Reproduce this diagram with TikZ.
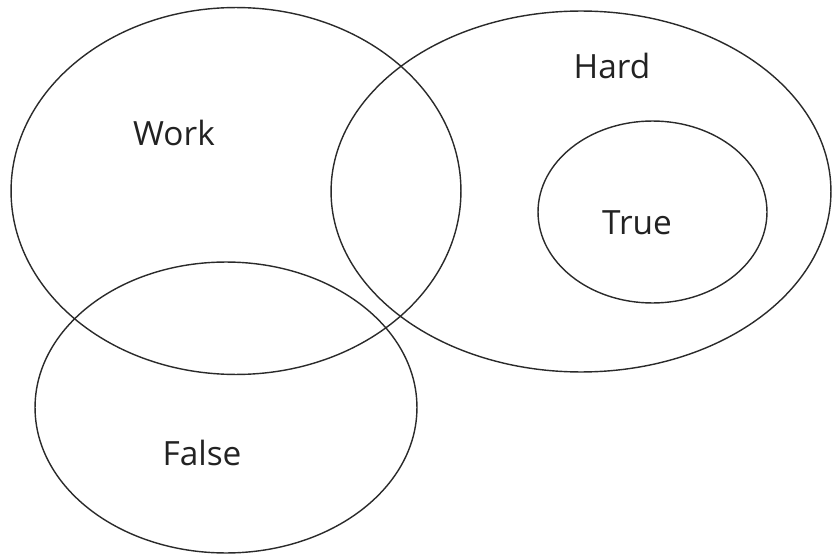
\documentclass[tikz,border=0pt]{standalone}
\usepackage{fontspec}
\setmainfont{Open Sans}
\usepackage{tikz}
\usetikzlibrary{shapes.geometric}
\usepackage{xcolor}
\definecolor{outline}{HTML}{2A2A2A}
\definecolor{labeltext}{HTML}{222222}

\begin{document}
\begin{tikzpicture}[
    x=0.02cm, y=-0.02cm,
    set/.style={ellipse, draw=outline, line width=0.8pt, inner sep=0pt,
      outer sep=0pt},
    lbl/.style={font=\fontsize{19}{22}\selectfont, text=labeltext,
      inner sep=0pt},
  ]
    \useasboundingbox (0,0) rectangle (832,554);

    \node[set, minimum width=9cm, minimum height=7.34cm] (work) at (236,191) {};
    \node[set, minimum width=10cm, minimum height=7.22cm] (hard) at (581,191.5) {};
    \node[set, minimum width=4.58cm, minimum height=3.64cm] (true) at (652.5,212) {};
    \node[set, minimum width=7.64cm, minimum height=5.82cm] (false) at (226,407.5) {};

    \node[lbl] (worklbl)  at (174,133) {Work};
    \node[lbl] (hardlbl)  at (612,66)  {Hard};
    \node[lbl] (truelbl)  at (637,223) {True};
    \node[lbl] (falselbl) at (202,453) {False};
\end{tikzpicture}
\end{document}
